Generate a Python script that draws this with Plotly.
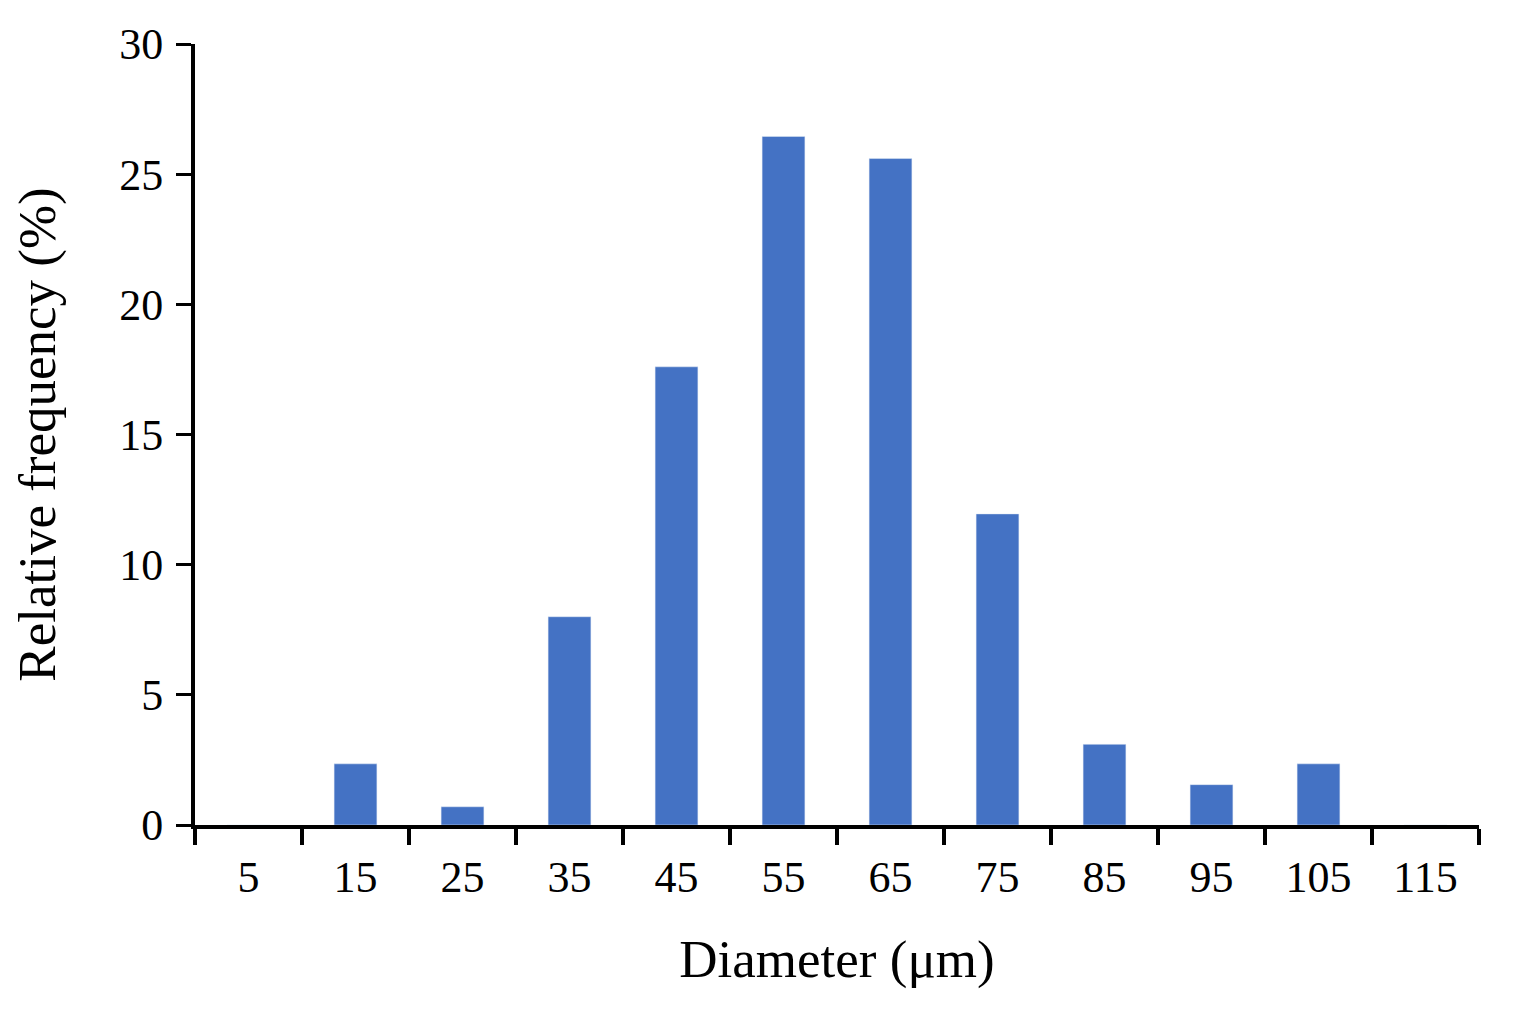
import plotly.graph_objects as go

categories = ["5","15","25","35","45","55","65","75","85","95","105","115"]
values = [0, 2.35, 0.7, 8.0, 17.6, 26.45, 25.6, 11.95, 3.1, 1.55, 2.35, 0]

fig = go.Figure(go.Bar(x=categories, y=values, marker_color="#4472C4", width=0.4))
font = dict(family="Liberation Serif", size=44, color="black")
fig.update_layout(
    width=1519, height=1011, plot_bgcolor="white", paper_bgcolor="white",
    margin=dict(l=187, r=48, t=33, b=194), font=font, showlegend=False,
    xaxis=dict(type="category", tickson="boundaries", ticks="outside", ticklen=16, tickwidth=4,
               showline=True, linewidth=4, linecolor="black", tickcolor="black",
               ticklabelstandoff=10,
               title=dict(text="Diameter (μm)", standoff=40), showgrid=False),
    yaxis=dict(range=[0, 30], dtick=5, ticks="outside", ticklen=15, tickwidth=3,
               showline=True, linewidth=4, linecolor="black", tickcolor="black",
               showgrid=False, zeroline=False, ticklabelstandoff=4,
               title=dict(text="Relative frequency (%)", standoff=60)),
)
fig.write_html("out.html")
